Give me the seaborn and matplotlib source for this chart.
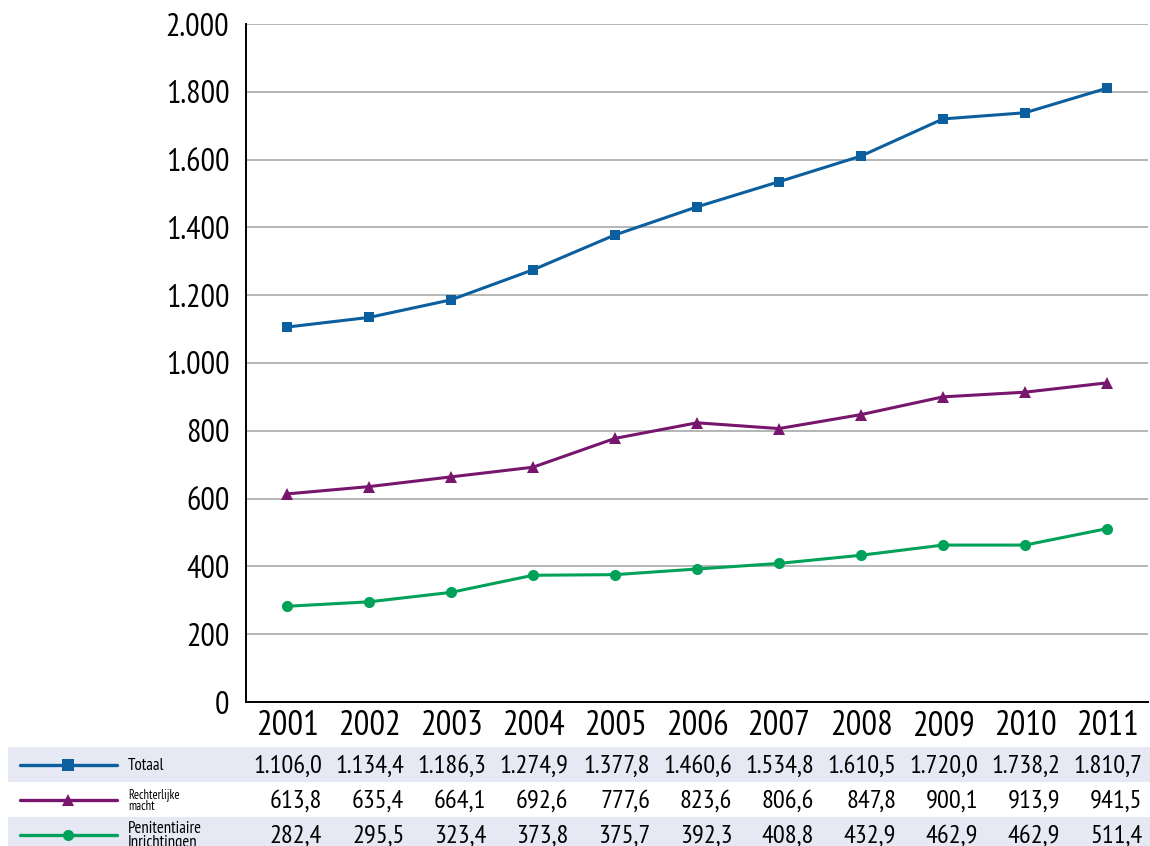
import matplotlib
matplotlib.use('Agg')
import matplotlib.pyplot as plt
import matplotlib.transforms as mtransforms
from matplotlib.ticker import FuncFormatter, FixedLocator
import pandas as pd
import seaborn as sns

years = [2001, 2002, 2003, 2004, 2005, 2006, 2007, 2008, 2009, 2010, 2011]
totaal = [1106.0, 1134.4, 1186.3, 1274.9, 1377.8, 1460.6, 1534.8, 1610.5, 1720.0, 1738.2, 1810.7]
rechterlijke = [613.8, 635.4, 664.1, 692.6, 777.6, 823.6, 806.6, 847.8, 900.1, 913.9, 941.5]
penitentiaire = [282.4, 295.5, 323.4, 373.8, 375.7, 392.3, 408.8, 432.9, 462.9, 462.9, 511.4]
series_names = ['Totaal', 'Rechterlijke\nmacht', 'Penitentiaire\nInrichtingen']

blue = '#0c5f9e'
purple = '#78166d'
green = '#00a159'
band = '#e6e9f3'

sns.set_style('white')
plt.rcParams['font.family'] = ['PT Sans Narrow', 'IBM Plex Sans Condensed', 'DejaVu Sans']
plt.rcParams['text.color'] = 'black'
plt.rcParams['xtick.color'] = 'black'
plt.rcParams['ytick.color'] = 'black'


def nl(v, dec=1):
    s = f"{v:,.{dec}f}"
    return s.replace(',', 'X').replace('.', ',').replace('X', '.')


df = pd.DataFrame({'jaar': years, 'Totaal': totaal,
                   'Rechterlijke': rechterlijke, 'Penitentiaire': penitentiaire})

fig = plt.figure(figsize=(11.5, 8.46), dpi=100)
ax = fig.add_axes([246 / 1150, 144 / 846, 902 / 1150, 678 / 846])

styles = [('Totaal', blue, 's', 7.5), ('Rechterlijke', purple, '^', 8), ('Penitentiaire', green, 'o', 8)]
for col, c, m, ms in styles:
    sns.lineplot(data=df, x='jaar', y=col, color=c, marker=m, markersize=ms,
                 markeredgewidth=0, linewidth=2.2, ax=ax, zorder=3)

ax.set_xlim(2000.5, 2011.5)
ax.set_ylim(0, 2000)
ax.set_yticks(range(0, 2001, 200))
ax.yaxis.set_major_formatter(FuncFormatter(lambda v, p: nl(v, 0)))
ax.set_xticks(years)
ax.xaxis.set_minor_locator(FixedLocator([y - 0.5 for y in years]))
ax.tick_params(axis='x', which='major', length=0, pad=6, labelsize=25)
ax.tick_params(axis='x', which='minor', direction='in', length=10, width=1.2, color='black')
ax.tick_params(axis='y', length=0, pad=12, labelsize=23)
ax.set_xlabel('')
ax.set_ylabel('')
ax.grid(axis='y', color='#a7aaa8', linewidth=1.2)
ax.set_axisbelow(True)
for s in ['top', 'right']:
    ax.spines[s].set_visible(False)
for s in ['left', 'bottom']:
    ax.spines[s].set_color('black')
    ax.spines[s].set_linewidth(1.4)

# data table
axt = fig.add_axes([8 / 1150, 0, 1142 / 1150, 99 / 846])
axt.set_xlim(8, 1150)
axt.set_ylim(846, 747)
axt.axis('off')
axt.axhspan(747, 782, color=band, lw=0)
axt.axhspan(817, 846, color=band, lw=0)

tr = mtransforms.blended_transform_factory(ax.transData, axt.transData)
rows = [(totaal, blue, 's', 765, 12), (rechterlijke, purple, '^', 800, 9),
        (penitentiaire, green, 'o', 835, 12)]
for (vals, c, m, yc, fs), name in zip(rows, series_names):
    axt.plot([20, 117], [yc, yc], color=c, lw=2.4)
    axt.plot([68], [yc], color=c, marker=m, markersize=8, markeredgewidth=0)
    axt.text(128, yc + 1, name, fontsize=fs, va='center', ha='left', linespacing=0.85)
    for yr, v in zip(years, vals):
        axt.text(yr + 0.43, yc + 1, nl(v), transform=tr, fontsize=19,
                 ha='right', va='center', clip_on=False)

fig.savefig('out.png', dpi=100)
